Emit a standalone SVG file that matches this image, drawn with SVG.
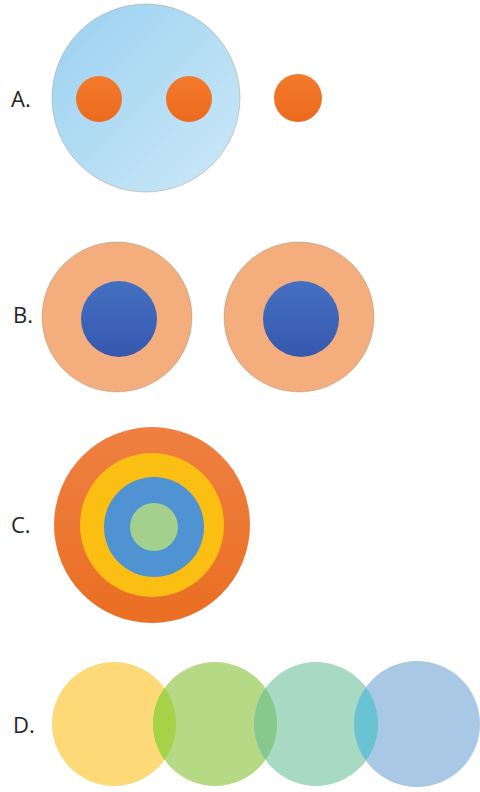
<svg xmlns="http://www.w3.org/2000/svg" width="480" height="792" viewBox="0 0 480 792">
<style>
.lbl{font-family:"Open Sans","Liberation Sans",sans-serif;font-size:22px;fill:#222}
.edge{stroke:#8a7a70;stroke-opacity:.35;stroke-width:1}
</style>
<defs>
<linearGradient id="gA" x1="0" y1="0" x2="1" y2="1">
<stop offset="0" stop-color="#9ad1f1"/><stop offset="1" stop-color="#cde8f7"/>
</linearGradient>
<linearGradient id="gOr" x1="0" y1="0" x2="0" y2="1">
<stop offset="0" stop-color="#f47a2c"/><stop offset="1" stop-color="#ec6a1e"/>
</linearGradient>
<linearGradient id="gDB" x1="0" y1="0" x2="0" y2="1">
<stop offset="0" stop-color="#4470c2"/><stop offset="1" stop-color="#3658ae"/>
</linearGradient>
<linearGradient id="gCo" x1="0" y1="0" x2="0" y2="1">
<stop offset="0" stop-color="#ef8040"/><stop offset="1" stop-color="#ea6e23"/>
</linearGradient>
<clipPath id="cY"><circle cx="114" cy="724" r="62"/></clipPath>
<clipPath id="cG"><circle cx="215" cy="724" r="62"/></clipPath>
<clipPath id="cT"><circle cx="316" cy="724" r="62"/></clipPath>
</defs>
<rect width="480" height="792" fill="#fff"/>
<g id="A">
<text class="lbl" x="11" y="107">A.</text>
<circle class="edge" cx="146" cy="98" r="94" fill="url(#gA)"/>
<circle cx="99" cy="99" r="23" fill="url(#gOr)"/>
<circle cx="189" cy="99" r="23" fill="url(#gOr)"/>
<circle cx="298" cy="98" r="24" fill="url(#gOr)"/>
</g>
<g id="B">
<text class="lbl" x="13" y="323">B.</text>
<circle class="edge" cx="117" cy="317" r="75" fill="#f4ad7d"/>
<circle cx="119" cy="319" r="38" fill="url(#gDB)"/>
<circle class="edge" cx="299" cy="317" r="75" fill="#f4ad7d"/>
<circle cx="301" cy="319" r="38" fill="url(#gDB)"/>
</g>
<g id="C">
<text class="lbl" x="11" y="533">C.</text>
<circle cx="152" cy="525" r="98" fill="url(#gCo)"/>
<circle cx="152" cy="525" r="72" fill="#fbbe12"/>
<circle cx="154" cy="527" r="50" fill="#4f93d2"/>
<circle cx="154" cy="527" r="24" fill="#a4d08e"/>
</g>
<g id="D">
<text class="lbl" x="13" y="733">D.</text>
<circle cx="114" cy="724" r="62" fill="#fdd978"/>
<circle cx="215" cy="724" r="62" fill="#b6d986"/>
<circle cx="316" cy="724" r="62" fill="#a7d9c3"/>
<circle cx="417" cy="724" r="63" fill="#a9c8e6"/>
<circle cx="215" cy="724" r="62" fill="#a5d246" clip-path="url(#cY)"/>
<circle cx="316" cy="724" r="62" fill="#87c88c" clip-path="url(#cG)"/>
<circle cx="417" cy="724" r="63" fill="#69c3d2" clip-path="url(#cT)"/>
</g>
</svg>
